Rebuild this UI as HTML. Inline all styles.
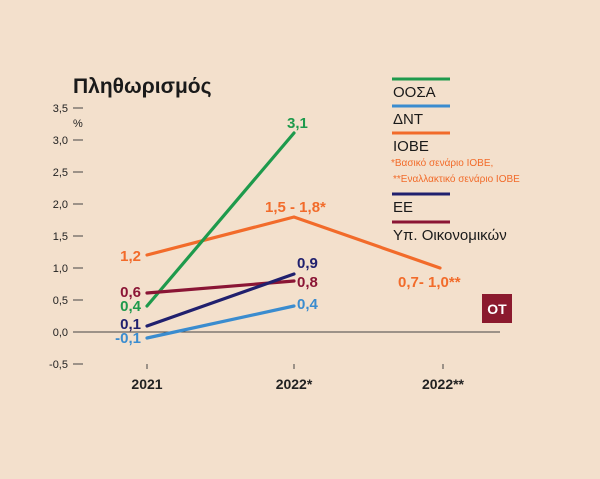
<!DOCTYPE html>
<html><head><meta charset="utf-8"><style>body{margin:0;background:#f3e0cc}</style></head><body>
<svg width="600" height="474" xmlns="http://www.w3.org/2000/svg" font-family="Liberation Sans, DejaVu Sans, sans-serif">
<rect width="600" height="474" fill="#f3e0cc"/>
<text x="73" y="93" font-size="21" font-weight="bold" fill="#1a1a1a">Πληθωρισμός</text>
<g font-size="11" fill="#222" text-anchor="end">
<text x="68" y="112">3,5</text><text x="68" y="144">3,0</text><text x="68" y="176">2,5</text><text x="68" y="208">2,0</text><text x="68" y="240">1,5</text><text x="68" y="272">1,0</text><text x="68" y="304">0,5</text><text x="68" y="336">0,0</text><text x="68" y="368">-0,5</text>
</g>
<text x="73" y="127" font-size="11" fill="#222">%</text>
<g stroke="#444" stroke-width="1">
<line x1="73" x2="83" y1="108" y2="108"/><line x1="73" x2="83" y1="140" y2="140"/><line x1="73" x2="83" y1="172" y2="172"/><line x1="73" x2="83" y1="204" y2="204"/><line x1="73" x2="83" y1="236" y2="236"/><line x1="73" x2="83" y1="268" y2="268"/><line x1="73" x2="83" y1="300" y2="300"/><line x1="73" x2="83" y1="364" y2="364"/>
<line x1="73" x2="500" y1="332" y2="332"/>
<line x1="147" x2="147" y1="364" y2="369"/><line x1="294" x2="294" y1="364" y2="369"/><line x1="443" x2="443" y1="364" y2="369"/>
</g>
<g font-size="14" fill="#222" text-anchor="middle" font-weight="bold">
<text x="147" y="389">2021</text><text x="294" y="389">2022*</text><text x="443" y="389">2022**</text>
</g>
<g stroke-width="3.2" fill="none" stroke-linecap="round">
<polyline points="147,255 294,217 440,268" stroke="#f26b2a"/>
<line x1="147" y1="306" x2="294" y2="133" stroke="#1e9a4c"/>
<line x1="147" y1="293" x2="294" y2="281" stroke="#8a1535"/>
<line x1="147" y1="326" x2="294" y2="274" stroke="#20206e"/>
<line x1="147" y1="338" x2="294" y2="306" stroke="#3a8ccf"/>
</g>
<g font-size="15" font-weight="bold" text-anchor="end">
<text x="141" y="261" fill="#f26b2a">1,2</text>
<text x="141" y="297" fill="#8a1535">0,6</text>
<text x="141" y="311" fill="#1e9a4c">0,4</text>
<text x="141" y="329" fill="#20206e">0,1</text>
<text x="141" y="343" fill="#3a8ccf">-0,1</text>
</g>
<g font-size="15" font-weight="bold">
<text x="287" y="128" fill="#1e9a4c">3,1</text>
<text x="265" y="212" fill="#f26b2a">1,5 - 1,8*</text>
<text x="297" y="268" fill="#20206e">0,9</text>
<text x="297" y="287" fill="#8a1535">0,8</text>
<text x="297" y="309" fill="#3a8ccf">0,4</text>
<text x="398" y="287" fill="#f26b2a">0,7- 1,0**</text>
</g>
<g stroke-width="3">
<line x1="392" x2="450" y1="79" y2="79" stroke="#1e9a4c"/>
<line x1="392" x2="450" y1="106" y2="106" stroke="#3a8ccf"/>
<line x1="392" x2="450" y1="133" y2="133" stroke="#f26b2a"/>
<line x1="392" x2="450" y1="194" y2="194" stroke="#20206e"/>
<line x1="392" x2="450" y1="222" y2="222" stroke="#8a1535"/>
</g>
<g font-size="15" fill="#1a1a1a">
<text x="393" y="97">ΟΟΣΑ</text><text x="393" y="124">ΔΝΤ</text><text x="393" y="151">ΙΟΒΕ</text><text x="393" y="212">ΕΕ</text><text x="393" y="240">Υπ. Οικονομικών</text>
</g>
<g font-size="10" fill="#f26b2a">
<text x="391" y="166">*Βασικό σενάριο ΙΟΒΕ,</text><text x="393" y="182">**Εναλλακτικό σενάριο ΙΟΒΕ</text>
</g>
<rect x="482" y="294" width="30" height="29" fill="#8b1a2e"/>
<text x="497" y="314" font-size="14" font-weight="bold" fill="#fff" text-anchor="middle">ΟΤ</text>
</svg>
</body></html>
